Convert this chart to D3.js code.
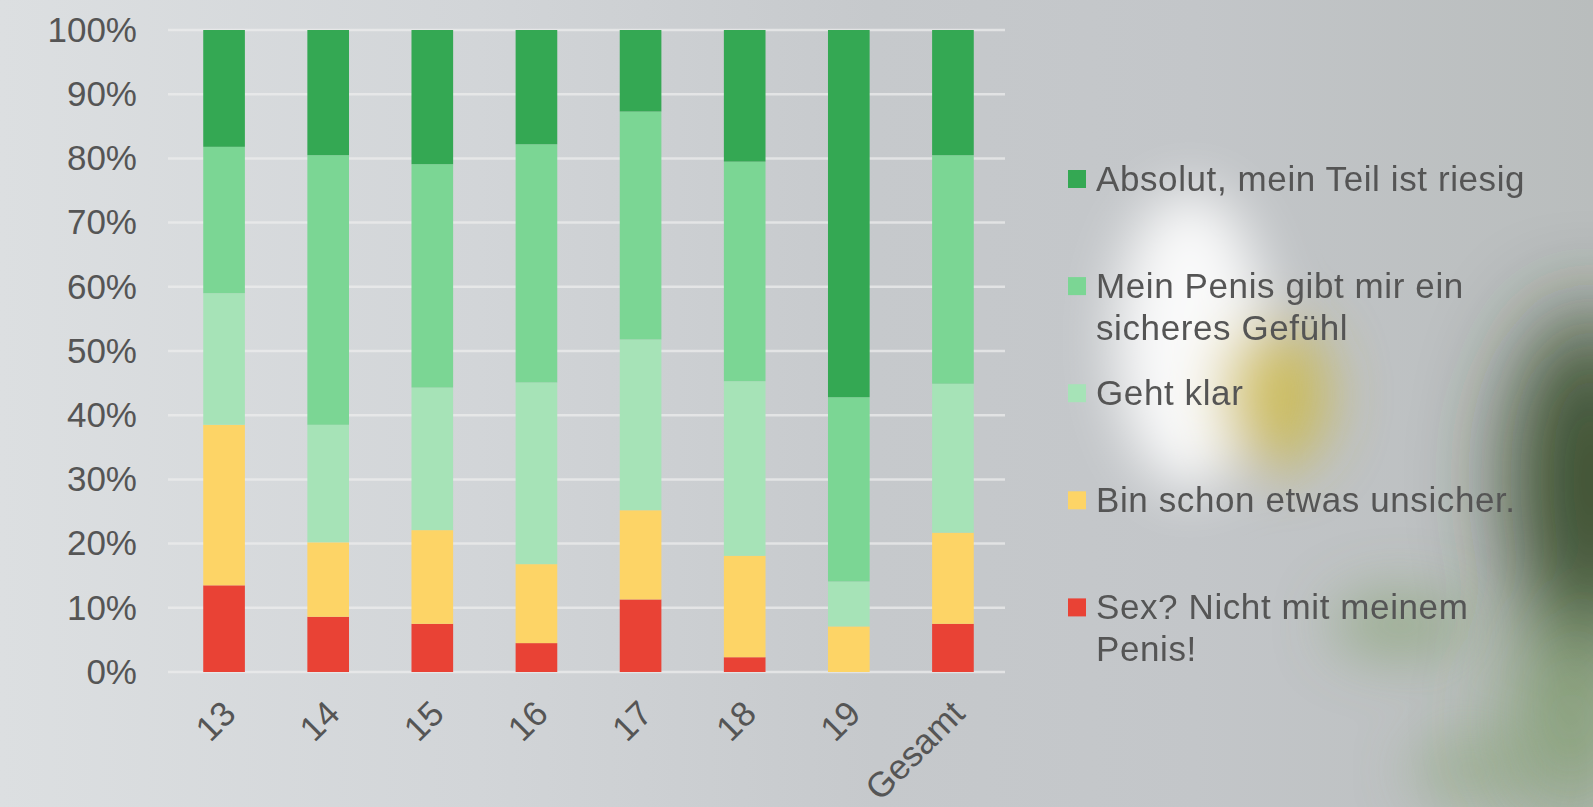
<!DOCTYPE html>
<html>
<head>
<meta charset="utf-8">
<title>Penis Umfrage</title>
<script src="https://d3js.org/d3.v7.min.js"></script>
<style>
  body { margin: 0; overflow: hidden; }
  text { font-family: "Liberation Sans", Arial, sans-serif; }
</style>
</head>
<body>
<div id="chart"></div>
<script>
// data (percent per age group)
var ages = ["13", "14", "15", "16", "17", "18", "19", "Gesamt"];
var sexNein  = [13.5, 8.6, 7.5, 4.5, 11.3, 2.3, 0, 7.5];
var unsicher = [25.0, 11.6, 14.6, 12.3, 13.9, 15.8, 7.1, 14.2];
var gehtKlar = [20.5, 18.3, 22.2, 28.3, 26.6, 27.2, 7.0, 23.2];
var sicher   = [22.8, 42.0, 34.8, 37.1, 35.5, 34.2, 28.7, 35.6];
var riesig   = [18.2, 19.5, 20.9, 17.8, 12.7, 20.5, 57.2, 19.5];
var yTicks = [0, 10, 20, 30, 40, 50, 60, 70, 80, 90, 100];

// series from bottom to top
var keys = ["sexNein", "unsicher", "gehtKlar", "sicher", "riesig"];
var labels = {
  riesig: ["Absolut, mein Teil ist riesig"],
  sicher: ["Mein Penis gibt mir ein", "sicheres Gefühl"],
  gehtKlar: ["Geht klar"],
  unsicher: ["Bin schon etwas unsicher."],
  sexNein: ["Sex? Nicht mit meinem", "Penis!"]
};
var colors = {
  riesig: "#34a853",
  sicher: "#7bd694",
  gehtKlar: "#a6e3b7",
  unsicher: "#fdd466",
  sexNein: "#e94235"
};

var rows = ages.map(function(a, i) {
  return {age: a, sexNein: sexNein[i], unsicher: unsicher[i], gehtKlar: gehtKlar[i], sicher: sicher[i], riesig: riesig[i]};
});

var width = 1593, height = 807;

var svg = d3.select("#chart").append("svg")
  .attr("width", width)
  .attr("height", height);

// blurred photo background
var defs = svg.append("defs");
var bg = defs.append("linearGradient").attr("id", "bg").attr("x1", 0).attr("x2", 1).attr("y1", 0).attr("y2", 0);
bg.append("stop").attr("offset", "0%").attr("stop-color", "#dcdfe1");
bg.append("stop").attr("offset", "30%").attr("stop-color", "#d2d5d8");
bg.append("stop").attr("offset", "55%").attr("stop-color", "#c6c9cc");
bg.append("stop").attr("offset", "75%").attr("stop-color", "#c3c6c9");
bg.append("stop").attr("offset", "100%").attr("stop-color", "#b9bdbd");
defs.append("filter").attr("id", "blur").attr("x", "-50%").attr("y", "-50%").attr("width", "200%").attr("height", "200%")
  .append("feGaussianBlur").attr("stdDeviation", 28);
defs.append("filter").attr("id", "blur2").attr("x", "-80%").attr("y", "-80%").attr("width", "260%").attr("height", "260%")
  .append("feGaussianBlur").attr("stdDeviation", 45);

svg.append("rect").attr("width", width).attr("height", height).attr("fill", "url(#bg)");

var blobs = svg.append("g").attr("filter", "url(#blur)");
blobs.append("ellipse").attr("cx", 1190).attr("cy", 340).attr("rx", 75).attr("ry", 150).attr("fill", "#ffffff").attr("opacity", 0.9);
blobs.append("ellipse").attr("cx", 1275).attr("cy", 395).attr("rx", 55).attr("ry", 75).attr("fill", "#cdb83a").attr("opacity", 0.75);
blobs.append("ellipse").attr("cx", 1400).attr("cy", 625).attr("rx", 70).attr("ry", 35).attr("fill", "#7f9f6a").attr("opacity", 0.55);
blobs.append("ellipse").attr("cx", 1470).attr("cy", 770).attr("rx", 60).attr("ry", 40).attr("fill", "#8aa575").attr("opacity", 0.45);

var dark = svg.append("g").attr("filter", "url(#blur2)");
dark.append("ellipse").attr("cx", 1590).attr("cy", 480).attr("rx", 80).attr("ry", 170).attr("fill", "#2c4220").attr("opacity", 0.9);
dark.append("ellipse").attr("cx", 1570).attr("cy", 720).attr("rx", 60).attr("ry", 100).attr("fill", "#5f8a45").attr("opacity", 0.6);

// scales
var x = d3.scaleBand()
  .domain(ages)
  .range([172, 1005])
  .paddingInner(0.6)
  .paddingOuter(0.3);

var y = d3.scaleLinear()
  .domain([0, 100])
  .range([672, 30]);

// grid lines
svg.append("g")
  .selectAll("line")
  .data(yTicks)
  .enter()
  .append("line")
    .attr("x1", 168)
    .attr("x2", 1005)
    .attr("y1", function(d) { return y(d); })
    .attr("y2", function(d) { return y(d); })
    .style("stroke", "#eeeeee")
    .style("stroke-opacity", 0.7)
    .style("stroke-width", 2.5);

// y axis
var yAxis = svg.append("g")
  .attr("transform", "translate(172,0)")
  .call(d3.axisLeft(y).tickValues(yTicks).tickSize(0).tickPadding(35).tickFormat(function(d) { return d + "%"; }));
yAxis.select(".domain").remove();
yAxis.selectAll("text")
  .style("font-size", "35px")
  .style("fill", "#555555")
  .style("font-family", "'Liberation Sans', Arial, sans-serif");

// stacked bars
var stack = d3.stack().keys(keys)(rows);

svg.append("g")
  .selectAll("g")
  .data(stack)
  .enter()
  .append("g")
    .attr("fill", function(d) { return colors[d.key]; })
  .selectAll("rect")
  .data(function(d) { return d; })
  .enter()
  .append("rect")
    .attr("x", function(d) { return x(d.data.age); })
    .attr("y", function(d) { return y(d[1]); })
    .attr("width", x.bandwidth())
    .attr("height", function(d) { return y(d[0]) - y(d[1]); });

// x labels, rotated
svg.append("g")
  .selectAll("text")
  .data(ages)
  .enter()
  .append("text")
    .attr("transform", function(d) { return "translate(" + (x(d) + x.bandwidth() / 2 + 5) + ",707) rotate(-45)"; })
    .attr("text-anchor", "end")
    .attr("dy", "0.35em")
    .style("font-size", "35px")
    .style("fill", "#555555")
    .text(function(d) { return d; });

// legend
var legendKeys = ["riesig", "sicher", "gehtKlar", "unsicher", "sexNein"];
var legend = svg.append("g")
  .selectAll("g")
  .data(legendKeys)
  .enter()
  .append("g")
    .attr("transform", function(d, i) { return "translate(1068," + (179 + i * 107.1) + ")"; });

legend.append("rect")
  .attr("x", 0)
  .attr("y", -9)
  .attr("width", 18)
  .attr("height", 18)
  .attr("fill", function(d) { return colors[d]; });

legend.append("text")
  .attr("x", 28)
  .attr("y", 12)
  .style("font-size", "35px")
  .style("letter-spacing", "0.6px")
  .style("fill", "#555555")
  .selectAll("tspan")
  .data(function(d) { return labels[d]; })
  .enter()
  .append("tspan")
    .attr("x", 28)
    .attr("dy", function(d, i) { return i == 0 ? 0 : 41.5; })
    .text(function(d) { return d; });
</script>
</body>
</html>
